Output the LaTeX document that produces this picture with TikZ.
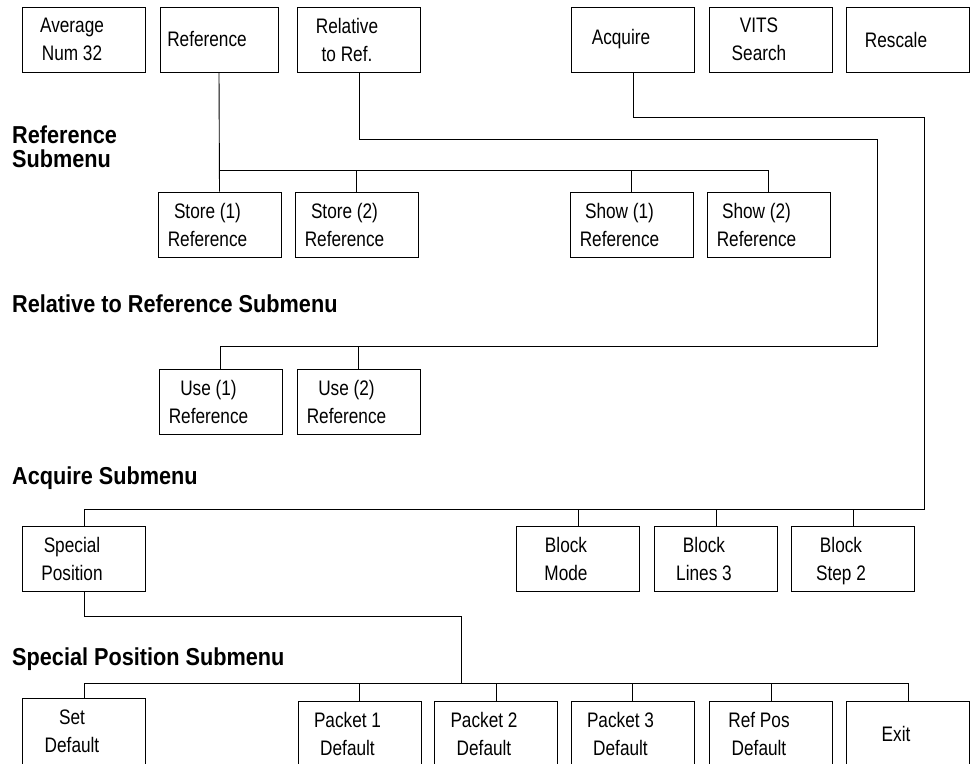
\documentclass[tikz,border=0pt]{standalone}
\usepackage{fontspec}
\setmainfont{Liberation Sans}[FakeStretch=0.82]
\newfontfamily\headfont{Liberation Sans Bold}[FakeStretch=0.885]
\usepackage{tikz}
\usetikzlibrary{positioning}

\tikzset{
  menu/.style={draw, line width=0.9pt, minimum width=123, minimum height=65, inner sep=0},
  lbl/.style={align=center, xshift=-12, font=\fontsize{21}{28}\selectfont},
  head/.style={anchor=base west, inner sep=0, align=left, font=\headfont\fontsize{24.5}{24}\selectfont},
  wire/.style={line width=0.9pt}
}

\begin{document}
\begin{tikzpicture}[x=1pt,y=-1pt]
            \useasboundingbox (0,0) rectangle (971,763);
            \fill[white] (0,0) rectangle (971,763);
            \clip (0,0) rectangle (971,763);

            % main menu
            \node[menu, label={[lbl]center:Average\\Num 32}] (avg) at (84,39.5) {};
            \node[menu, minimum width=118, label={[lbl]center:Reference}] (ref) at (219,39.5) {};
            \node[menu, label={[lbl]center:Relative\\to Ref.}] (rel) at (359,39.5) {};
            \node[menu, label={[lbl]center:Acquire}] (acq) at (633,39.5) {};
            \node[menu, label={[lbl]center:VITS\\Search}] (vits) at (771,39.5) {};
            \node[menu, label={[lbl]center:Rescale}] (resc) at (908,39.5) {};

            % Reference submenu
            \node[head] (refhead) at (12,167) {Reference\\Submenu};
            \node[menu, label={[lbl]center:Store (1)\\Reference}] (store1) at (219.5,224.5) {};
            \node[menu, label={[lbl]center:Store (2)\\Reference}] (store2) at (356.5,224.5) {};
            \node[menu, label={[lbl]center:Show (1)\\Reference}] (show1) at (631.5,224.5) {};
            \node[menu, label={[lbl]center:Show (2)\\Reference}] (show2) at (768.5,224.5) {};
            \coordinate (refbus) at (0,170);
            \draw[wire] (ref.south) -- (store1.north);
            \draw[wire] (ref.south |- refbus) -| (show2.north);
            \foreach \n in {store2,show1}
                \draw[wire] (\n.north |- refbus) -- (\n.north);

            % Relative to Reference submenu
            \node[head] (relhead) at (12,312) {Relative to Reference Submenu};
            \node[menu, label={[lbl]center:Use (1)\\Reference}] (use1) at (220.5,401.5) {};
            \node[menu, label={[lbl]center:Use (2)\\Reference}] (use2) at (358.5,401.5) {};
            \coordinate (relA) at (877,139);
            \coordinate (relB) at (877,346);
            \draw[wire] (rel.south) |- (relA) -- (relB) -| (use1.north);
            \draw[wire] (use2.north |- relB) -- (use2.north);

            % Acquire submenu
            \node[head] (acqhead) at (12,484) {Acquire Submenu};
            \node[menu, label={[lbl]center:Special\\Position}] (spec) at (84,558.5) {};
            \node[menu, label={[lbl]center:Block\\Mode}] (bmode) at (578,558.5) {};
            \node[menu, label={[lbl]center:Block\\Lines 3}] (blines) at (716,558.5) {};
            \node[menu, label={[lbl,yshift=-2.5]center:Block\\Step 2}] (bstep) at (853,558.5) {};
            \coordinate (acqA) at (924,117);
            \coordinate (acqB) at (924,509);
            \draw[wire] (acq.south) |- (acqA) -- (acqB) -| (spec.north);
            \foreach \n in {bmode,blines,bstep}
                \draw[wire] (\n.north |- acqB) -- (\n.north);

            % Special Position submenu
            \node[head] (sphead) at (12,665) {Special Position Submenu};
            \node[menu, minimum height=66, label={[lbl]center:Set\\Default}] (setdef) at (84,731) {};
            \node[menu, label={[lbl]center:Packet 1\\Default}] (pk1) at (359.5,733.5) {};
            \node[menu, label={[lbl]center:Packet 2\\Default}] (pk2) at (496,733.5) {};
            \node[menu, label={[lbl]center:Packet 3\\Default}] (pk3) at (632.5,733.5) {};
            \node[menu, label={[lbl]center:Ref Pos\\Default}] (refpos) at (771,733.5) {};
            \node[menu, label={[lbl]center:Exit}] (exit) at (908,733.5) {};
            \coordinate (spbend) at (461,616);
            \coordinate (spbus) at (461,683);
            \draw[wire] (spec.south) |- (spbend) -- (spbus);
            \draw[wire] (setdef.north) |- (spbus) -| (exit.north);
            \foreach \n in {pk1,pk2,pk3,refpos}
                \draw[wire] (\n.north |- spbus) -- (\n.north);
        \end{tikzpicture}
\end{document}
